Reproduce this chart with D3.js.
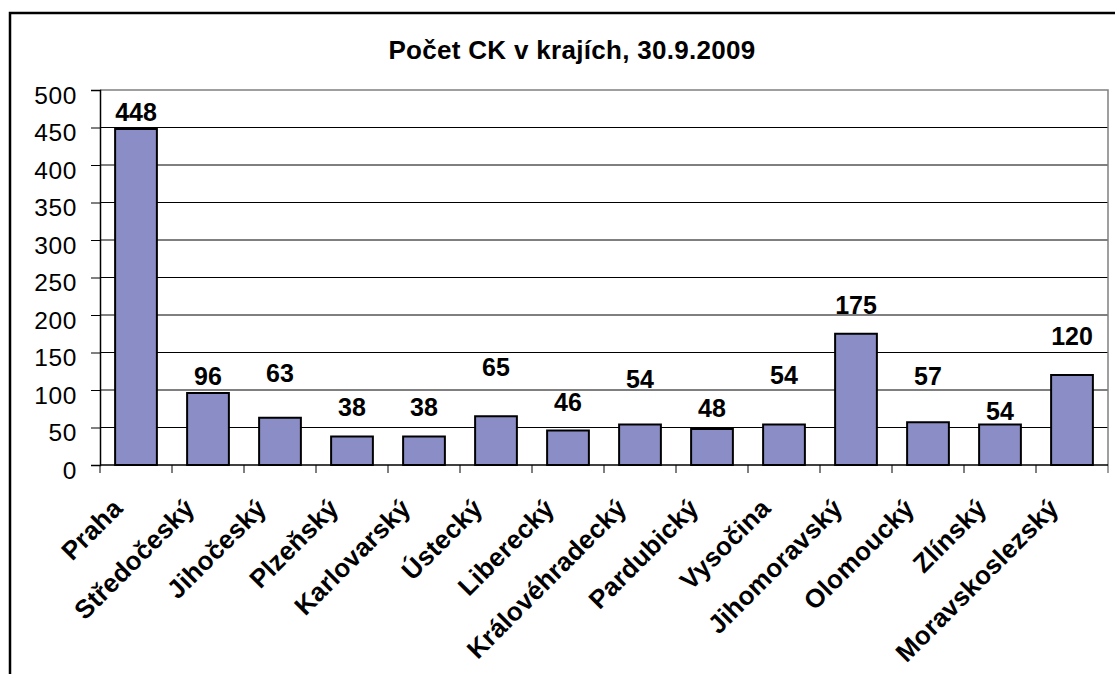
<!DOCTYPE html>
<html lang="cs">
  <head>
    <meta charset="UTF-8" />
    <title>Počet CK v krajích</title>
    <script src="https://d3js.org/d3.v7.min.js"></script>
    <style>
      body {
        margin: 0;
        background: #fff;
      }
      svg text {
        font-family: Arial, "Liberation Sans", sans-serif;
        fill: #000;
      }
    </style>
  </head>
  <body>
    <svg id="chart" width="1115" height="674"></svg>
    <script>
      // data
      const regions = [
        "Praha",
        "Středočeský",
        "Jihočeský",
        "Plzeňský",
        "Karlovarský",
        "Ústecký",
        "Liberecký",
        "Královéhradecký",
        "Pardubický",
        "Vysočina",
        "Jihomoravský",
        "Olomoucký",
        "Zlínský",
        "Moravskoslezský",
      ];
      const agencies = [448, 96, 63, 38, 38, 65, 46, 54, 48, 54, 175, 57, 54, 120];
      const yTicks = [0, 50, 100, 150, 200, 250, 300, 350, 400, 450, 500];
      const title = "Počet CK v krajích, 30.9.2009";

      // Excel placed the value labels at uneven heights above the bars (px)
      const labelLift = [8, 8, 36, 21, 21, 40, 20, 37, 12, 41, 20, 37, 5, 30];

      const svg = d3.select("#chart");
      const plot = { left: 100, right: 1108, top: 90, bottom: 465 };

      // outer frame (runs off the right and bottom of the picture)
      svg
        .append("rect")
        .attr("x", 10)
        .attr("y", 13)
        .attr("width", 1130)
        .attr("height", 700)
        .attr("fill", "none")
        .attr("stroke", "#000")
        .attr("stroke-width", 2.5);

      svg
        .append("text")
        .attr("x", 572)
        .attr("y", 59)
        .attr("text-anchor", "middle")
        .attr("font-size", 26)
        .attr("font-weight", "bold")
        .style("letter-spacing", "0.3px")
        .text(title);

      const x = d3
        .scaleBand()
        .domain(regions)
        .range([plot.left, plot.right])
        .paddingInner(0.42)
        .paddingOuter(0.21);

      const y = d3
        .scaleLinear()
        .domain([0, 500])
        .range([plot.bottom, plot.top]);

      // gridlines
      svg
        .append("g")
        .selectAll("line")
        .data(yTicks.filter((t) => t > 0 && t < 500))
        .join("line")
        .attr("x1", plot.left)
        .attr("x2", plot.right)
        .attr("y1", (d) => y(d))
        .attr("y2", (d) => y(d))
        .attr("stroke", "#000")
        .attr("stroke-width", 1);

      // plot area border (top + right, grey)
      svg
        .append("path")
        .attr(
          "d",
          `M${plot.left},${y(500)}H${plot.right}V${plot.bottom + 8}`
        )
        .attr("fill", "none")
        .attr("stroke", "#808080")
        .attr("stroke-width", 1.5);

      // bars
      svg
        .append("g")
        .selectAll("rect")
        .data(agencies)
        .join("rect")
        .attr("x", (d, i) => x(regions[i]))
        .attr("y", (d) => y(d))
        .attr("width", x.bandwidth())
        .attr("height", (d) => y(0) - y(d))
        .attr("fill", "#8b8ec6")
        .attr("stroke", "#000")
        .attr("stroke-width", 2);

      // value labels
      svg
        .append("g")
        .selectAll("text")
        .data(agencies)
        .join("text")
        .attr("x", (d, i) => x(regions[i]) + x.bandwidth() / 2)
        .attr("y", (d, i) => y(d) - labelLift[i])
        .attr("text-anchor", "middle")
        .attr("font-size", 25)
        .attr("font-weight", "bold")
        .text((d) => d);

      // y axis
      const yAxis = svg
        .append("g")
        .attr("transform", `translate(${plot.left},0)`)
        .call(d3.axisLeft(y).tickValues(yTicks).tickSize(9).tickPadding(14));
      yAxis.select(".domain").attr("stroke", "#000").attr("stroke-width", 1.5);
      yAxis.selectAll(".tick line").attr("stroke", "#000");
      yAxis
        .selectAll(".tick text")
        .attr("font-size", 24.5)
        .attr("font-family", null)
        .attr("dy", "0.55em")
        .style("letter-spacing", "0.6px");

      // x axis: ticks sit on category boundaries
      const step = x.step();
      const bounds = d3.range(regions.length + 1).map((i) => plot.left + i * step);
      svg
        .append("line")
        .attr("x1", plot.left)
        .attr("x2", plot.right)
        .attr("y1", plot.bottom)
        .attr("y2", plot.bottom)
        .attr("stroke", "#000")
        .attr("stroke-width", 1.5);
      svg
        .append("g")
        .selectAll("line")
        .data(bounds.slice(0, -1))
        .join("line")
        .attr("x1", (d) => d)
        .attr("x2", (d) => d)
        .attr("y1", plot.bottom)
        .attr("y2", plot.bottom + 8)
        .attr("stroke", "#000");

      svg
        .append("g")
        .selectAll("text")
        .data(regions)
        .join("text")
        .attr("text-anchor", "end")
        .attr(
          "transform",
          (d) =>
            `translate(${x(d) + x.bandwidth() / 2 - 12},${plot.bottom + 45}) rotate(-45)`
        )
        .attr("font-size", 26)
        .attr("font-weight", "bold")
        .style("letter-spacing", "0.2px")
        .text((d) => d);
    </script>
  </body>
</html>
